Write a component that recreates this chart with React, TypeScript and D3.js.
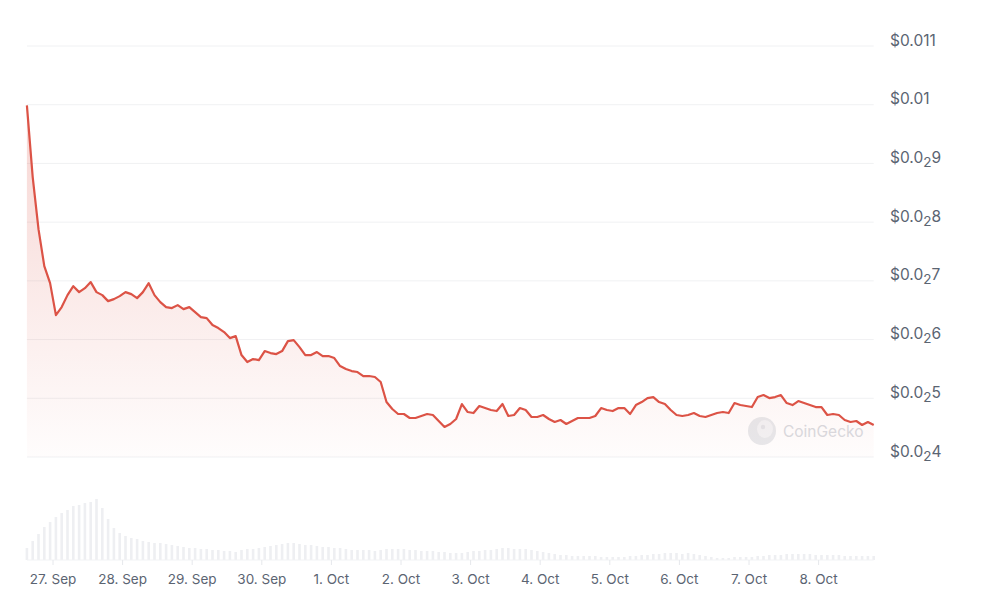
import React from "react";
import * as d3 from "d3";

// ---- data ----
const startTime = Date.UTC(2023, 8, 26, 15); // first sample, 2-hourly series
const stepHours = 2;

const prices = [
  0.00999, 0.008766, 0.007881, 0.007251, 0.006961, 0.006417, 0.006553, 0.006757, 0.00691, 0.006808,
  0.006876, 0.006979, 0.006808, 0.006757, 0.006655, 0.006689, 0.00674, 0.006808, 0.006774, 0.006706,
  0.006808, 0.006961, 0.006757, 0.006638, 0.006553, 0.006536, 0.006587, 0.006519, 0.006553, 0.006468,
  0.006383, 0.006366, 0.006247, 0.006196, 0.006128, 0.006025, 0.006059, 0.005736, 0.005617, 0.005668,
  0.005651, 0.005804, 0.00577, 0.005753, 0.005804, 0.005974, 0.005991, 0.005872, 0.005736, 0.005736,
  0.005787, 0.005719, 0.005719, 0.005685, 0.005549, 0.005498, 0.005464, 0.005447, 0.005379, 0.005379,
  0.005362, 0.005277, 0.004936, 0.004817, 0.004732, 0.004732, 0.004664, 0.004664, 0.004698, 0.004732,
  0.004715, 0.004613, 0.004511, 0.004562, 0.004647, 0.004902, 0.004766, 0.004749, 0.004868, 0.004834,
  0.0048, 0.004783, 0.004902, 0.004698, 0.004715, 0.004834, 0.0048, 0.004681, 0.004681, 0.004715,
  0.004647, 0.004596, 0.00463, 0.004562, 0.004613, 0.004664, 0.004664, 0.004664, 0.004698, 0.004834,
  0.0048, 0.004783, 0.004834, 0.004834, 0.004732, 0.004885, 0.004936, 0.005004, 0.005021, 0.004936,
  0.004902, 0.0048, 0.004715, 0.004698, 0.004715, 0.004749, 0.004698, 0.004681, 0.004715, 0.004749,
  0.004766, 0.004749, 0.004919, 0.004885, 0.004868, 0.004851, 0.005021, 0.005055, 0.005004, 0.005021,
  0.005055, 0.004919, 0.004885, 0.004953, 0.004919, 0.004885, 0.004851, 0.004851, 0.004715, 0.004732,
  0.004715, 0.00463, 0.004596, 0.004613, 0.004545, 0.004596, 0.004545,
];

// volume, thousands of USD per 2h
const volumes = [
  12, 19, 26, 33, 38, 43, 47, 50, 54, 55,
  57, 58, 61, 52, 41, 32, 27, 24, 22, 21,
  19, 18, 17, 17, 16, 15, 14, 13, 12, 12,
  11, 11, 10, 10, 9, 9, 8, 10, 11, 11,
  12, 13, 14, 15, 16, 17, 17, 16, 15, 15,
  14, 13, 13, 12, 12, 11, 10, 10, 10, 10,
  9, 10, 11, 11, 11, 11, 10, 10, 9, 9,
  9, 8, 8, 7, 7, 7, 8, 9, 9, 10,
  10, 11, 12, 12, 11, 11, 11, 10, 9, 8,
  7, 6, 5, 5, 4, 4, 4, 4, 4, 3,
  3, 3, 3, 3, 4, 4, 5, 5, 6, 6,
  7, 7, 7, 6, 7, 6, 5, 4, 3, 2,
  2, 2, 3, 3, 3, 3, 4, 4, 5, 5,
  5, 6, 6, 6, 6, 6, 5, 5, 5, 5,
  5, 4, 4, 4, 4, 4, 4,
];

const dayTicks = [
  Date.UTC(2023, 8, 27), Date.UTC(2023, 8, 28), Date.UTC(2023, 8, 29), Date.UTC(2023, 8, 30),
  Date.UTC(2023, 9, 1), Date.UTC(2023, 9, 2), Date.UTC(2023, 9, 3), Date.UTC(2023, 9, 4),
  Date.UTC(2023, 9, 5), Date.UTC(2023, 9, 6), Date.UTC(2023, 9, 7), Date.UTC(2023, 9, 8),
];
const dayTickLabels = [
  "27. Sep", "28. Sep", "29. Sep", "30. Sep", "1. Oct", "2. Oct",
  "3. Oct", "4. Oct", "5. Oct", "6. Oct", "7. Oct", "8. Oct",
];

const yTicks = [0.004, 0.005, 0.006, 0.007, 0.008, 0.009, 0.01, 0.011];
const yTickLabels: [string, string, string][] = [
  ["$0.0", "2", "4"],
  ["$0.0", "2", "5"],
  ["$0.0", "2", "6"],
  ["$0.0", "2", "7"],
  ["$0.0", "2", "8"],
  ["$0.0", "2", "9"],
  ["$0.01", "", ""],
  ["$0.011", "", ""],
];

const FONT = "Inter, 'Noto Sans', sans-serif";
const RED = "#dc5346";
const LABEL = "#5b6472";

export default function App() {
  const times = prices.map((_, i) => new Date(startTime + i * stepHours * 3600 * 1000));
  const x = d3
    .scaleUtc()
    .domain([times[0], times[times.length - 1]])
    .range([26.9, 873.7]);
  const y = d3.scaleLinear().domain([0.004, 0.011]).range([457, 46]);
  const v = d3.scaleLinear().domain([0, 62]).range([560, 498]);

  const pts = prices.map((p, i) => ({ t: times[i], p }));
  const line = d3
    .line<{ t: Date; p: number }>()
    .x((d) => x(d.t))
    .y((d) => y(d.p));
  const area = d3
    .area<{ t: Date; p: number }>()
    .x((d) => x(d.t))
    .y0(y(0.004))
    .y1((d) => y(d.p));

  const [gx0, gx1] = x.range();
  const barW = 2.6;

  return (
    <div style={{ position: "fixed", left: 0, top: 0, width: 1000, height: 600, background: "#fff" }}>
      <svg width={1000} height={600} style={{ display: "block" }}>
        <defs>
          <linearGradient id="areaGrad" gradientUnits="userSpaceOnUse" x1="0" y1={y(0.01)} x2="0" y2={y(0.004)}>
            <stop offset="0" stopColor={RED} stopOpacity={0.24} />
            <stop offset="1" stopColor={RED} stopOpacity={0.015} />
          </linearGradient>
        </defs>

        {/* gridlines */}
        {yTicks.map((t) => (
          <line key={t} x1={gx0} x2={gx1} y1={y(t)} y2={y(t)} stroke="#f0f1f3" strokeWidth={1} />
        ))}

        {/* y labels */}
        {yTicks.map((t, i) => {
          const [a, s, b] = yTickLabels[i];
          return (
            <text key={"l" + t} x={890} y={y(t) - 0.5} fontFamily={FONT} fontSize={15.5} fill={LABEL}>
              {a}
              {s && (
                <tspan fontSize={13.5} dy={4}>
                  {s}
                </tspan>
              )}
              {b && <tspan dy={s ? -4 : 0}>{b}</tspan>}
            </text>
          );
        })}

        {/* volume bars */}
        {volumes.map((vol, i) => (
          <rect
            key={"v" + i}
            x={x(times[i]) - barW / 2}
            y={v(vol)}
            width={barW}
            height={v(0) - v(vol)}
            fill="#eeeff2"
          />
        ))}
        <line x1={gx0} x2={gx1} y1={v(0)} y2={v(0)} stroke="#f2f3f5" />

        {/* x ticks + labels */}
        {dayTicks.map((t, i) => (
          <g key={"x" + t} transform={`translate(${x(new Date(t))},0)`}>
            <line y1={v(0)} y2={v(0) + 5} stroke="#e6e8ec" />
            <text y={584} textAnchor="middle" fontFamily={FONT} fontSize={13.5} fill={LABEL}>
              {dayTickLabels[i]}
            </text>
          </g>
        ))}

        {/* watermark */}
        <g transform="translate(762,431)" opacity={0.9}>
          <circle r={14} fill="#e5e7ea" />
          <ellipse cx={3} cy={-2} rx={8} ry={9} fill="#f1f2f4" />
          <circle cx={1} cy={-4} r={2.2} fill="#e0e2e6" />
          <text x={21} y={6} fontFamily={FONT} fontSize={15.5} fill="#d5d8dd">
            CoinGecko
          </text>
        </g>

        {/* price */}
        <path d={area(pts) || ""} fill="url(#areaGrad)" />
        <path d={line(pts) || ""} fill="none" stroke={RED} strokeWidth={2.2} strokeLinejoin="round" />
      </svg>
    </div>
  );
}
